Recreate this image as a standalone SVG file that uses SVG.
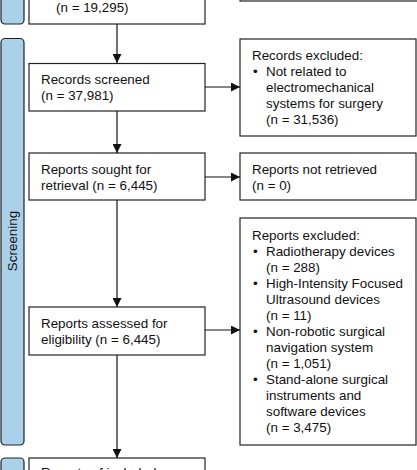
<svg xmlns="http://www.w3.org/2000/svg" width="417" height="470" viewBox="0 0 417 470">
<defs>
<style>
.phase{fill:#abd1ea;stroke:#222;stroke-width:1.2}
.box{fill:#fff;stroke:#222;stroke-width:1.2}
.t{font-family:"Liberation Sans",Arial,sans-serif;font-size:13.4px;fill:#111}
.edge{stroke:#111;stroke-width:1.2;fill:none;marker-end:url(#arr)}
</style>
<marker id="arr" viewBox="0 0 10 10" refX="10" refY="5" markerWidth="9" markerHeight="9" markerUnits="userSpaceOnUse" orient="auto">
<path d="M0,0 L10,5 L0,10 z" fill="#111"/>
</marker>
</defs>
<rect width="417" height="470" fill="#fff"/>
<g id="phase-identification"><rect class="phase" x="1" y="-20" width="23" height="44" rx="4"/></g>
<g id="phase-screening"><rect class="phase" x="1" y="38.5" width="23" height="406.5" rx="4"/>
<text class="t" transform="translate(17,241) rotate(-90)" text-anchor="middle">Screening</text></g>
<g id="phase-included"><rect class="phase" x="1" y="458" width="23" height="30" rx="4"/></g>
<g id="n-identified"><rect class="box" x="29" y="-20" width="176" height="44"/><text class="t" x="56" y="12">(n = 19,295)</text></g>
<g id="n-removed"><rect class="box" x="240" y="-30" width="180" height="31"/></g>
<g id="n-screened"><rect class="box" x="29" y="63.5" width="176" height="47.5"/><text class="t" x="41" y="84">Records screened</text><text class="t" x="41" y="100">(n = 37,981)</text></g>
<g id="n-excluded1"><rect class="box" x="240" y="39" width="176" height="97"/>
<text class="t" x="252" y="60">Records excluded:</text>
<text class="t" x="253" y="76">•</text>
<text class="t" x="266" y="76">Not related to</text>
<text class="t" x="266" y="92">electromechanical</text>
<text class="t" x="266" y="108">systems for surgery</text>
<text class="t" x="266" y="124">(n = 31,536)</text></g>
<g id="n-sought"><rect class="box" x="29" y="153" width="176" height="47"/><text class="t" x="41" y="174">Reports sought for</text><text class="t" x="41" y="190">retrieval (n = 6,445)</text></g>
<g id="n-notretrieved"><rect class="box" x="240" y="153" width="176" height="47"/><text class="t" x="252" y="174">Reports not retrieved</text><text class="t" x="252" y="190">(n = 0)</text></g>
<g id="n-assessed"><rect class="box" x="29" y="307" width="176" height="48"/><text class="t" x="41" y="328">Reports assessed for</text><text class="t" x="41" y="344">eligibility (n = 6,445)</text></g>
<g id="n-excluded2"><rect class="box" x="240" y="218" width="176" height="227"/>
<text class="t" x="252" y="240">Reports excluded:</text>
<text class="t" x="253" y="256">•</text>
<text class="t" x="266" y="256">Radiotherapy devices</text>
<text class="t" x="266" y="272">(n = 288)</text>
<text class="t" x="253" y="288">•</text>
<text class="t" x="266" y="288">High-Intensity Focused</text>
<text class="t" x="266" y="304">Ultrasound devices</text>
<text class="t" x="266" y="320">(n = 11)</text>
<text class="t" x="253" y="336">•</text>
<text class="t" x="266" y="336">Non-robotic surgical</text>
<text class="t" x="266" y="352">navigation system</text>
<text class="t" x="266" y="368">(n = 1,051)</text>
<text class="t" x="253" y="384">•</text>
<text class="t" x="266" y="384">Stand-alone surgical</text>
<text class="t" x="266" y="400">instruments and</text>
<text class="t" x="266" y="416">software devices</text>
<text class="t" x="266" y="432">(n = 3,475)</text></g>
<g id="n-included"><rect class="box" x="29" y="458" width="176" height="30"/><text class="t" x="41" y="477">Reports of included</text></g>
<g id="connectors">
<line class="edge" x1="117" y1="24" x2="117" y2="63"/>
<line class="edge" x1="205" y1="87" x2="240" y2="87"/>
<line class="edge" x1="117" y1="111" x2="117" y2="153"/>
<line class="edge" x1="205" y1="177" x2="240" y2="177"/>
<line class="edge" x1="117" y1="200" x2="117" y2="307"/>
<line class="edge" x1="205" y1="330" x2="240" y2="330"/>
<line class="edge" x1="117" y1="355" x2="117" y2="458"/>
</g>
</svg>
